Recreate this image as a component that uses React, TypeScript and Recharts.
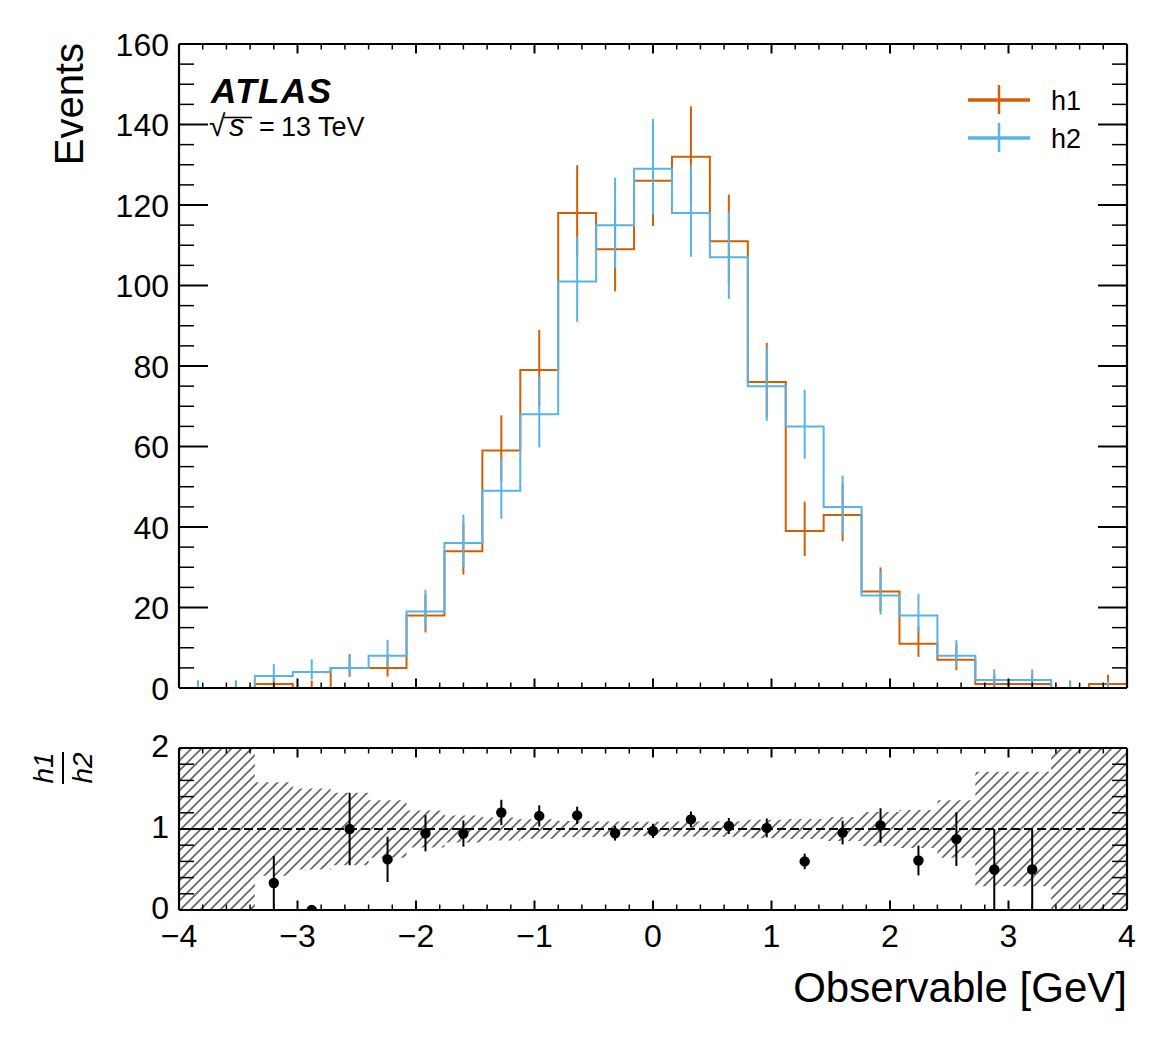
import React from "react";
import {
  ComposedChart,
  Line,
  Scatter,
  Area,
  XAxis,
  YAxis,
  ErrorBar,
  ReferenceLine,
} from "recharts";

// ---------------- data ----------------
const binEdges = [
  -4, -3.68, -3.36, -3.04, -2.72, -2.4, -2.08, -1.76, -1.44, -1.12, -0.8, -0.48, -0.16,
  0.16, 0.48, 0.8, 1.12, 1.44, 1.76, 2.08, 2.4, 2.72, 3.04, 3.36, 3.68, 4,
];
const binCenters = [
  -3.84, -3.52, -3.2, -2.88, -2.56, -2.24, -1.92, -1.6, -1.28, -0.96, -0.64, -0.32, 0,
  0.32, 0.64, 0.96, 1.28, 1.6, 1.92, 2.24, 2.56, 2.88, 3.2, 3.52, 3.84,
];
const h1Counts = [0, 0, 1, 0, 5, 5, 18, 34, 59, 79, 118, 109, 126, 132, 111, 76, 39, 43, 24, 11, 7, 1, 1, 0, 1];
const h2Counts = [0, 0, 3, 4, 5, 8, 19, 36, 49, 68, 101, 115, 129, 118, 107, 75, 65, 45, 23, 18, 8, 2, 2, 0, 0];

const xMajorTicks = [-4, -3, -2, -1, 0, 1, 2, 3, 4];
const xTickLabels = ["\u22124", "\u22123", "\u22122", "\u22121", "0", "1", "2", "3", "4"];
const yMainMajorTicks = [0, 20, 40, 60, 80, 100, 120, 140, 160];
const yMainTickLabels = ["0", "20", "40", "60", "80", "100", "120", "140", "160"];
const yRatioMajorTicks = [0, 1, 2];
const yRatioTickLabels = ["0", "1", "2"];

// minor tick grids (layout only)
const xAllTicks = Array.from({ length: 41 }, (_, i) => Math.round((-4 + 0.2 * i) * 10) / 10);
const yMainAllTicks = Array.from({ length: 33 }, (_, i) => i * 5);
const yRatioAllTicks = Array.from({ length: 11 }, (_, i) => Math.round(i * 2) / 10);

// ---------------- style ----------------
const ORANGE = "#D55E00";
const BLUE = "#56B4E9";
const FONT = "'Liberation Sans', Arial, Helvetica, sans-serif";

// ---------------- Poisson (Garwood) intervals for the histogram error bars ----------------
const TAIL = 0.158655;
function poissonCdf(k: number, mu: number): number {
  if (k < 0) return 0;
  let term = Math.exp(-mu);
  let sum = term;
  for (let i = 1; i <= k; i++) {
    term *= mu / i;
    sum += term;
  }
  return sum;
}
function bisect(f: (m: number) => number, target: number, lo: number, hi: number): number {
  for (let it = 0; it < 80; it++) {
    const mid = 0.5 * (lo + hi);
    if (f(mid) > target) lo = mid;
    else hi = mid;
  }
  return 0.5 * (lo + hi);
}
function poissonUp(n: number): number {
  return bisect((m) => poissonCdf(n, m), TAIL, n, n + 10 + 6 * Math.sqrt(n));
}
function poissonDown(n: number): number {
  if (n === 0) return 0;
  return bisect((m) => poissonCdf(n - 1, m), 1 - TAIL, 0, n);
}

const stepRows = (counts: number[]) =>
  binEdges.map((x, i) => ({ x, y: counts[Math.min(i, counts.length - 1)] }));
const errRows = (counts: number[]) =>
  binCenters.map((x, i) => {
    const n = counts[i];
    return { x, y: n, err: [n - poissonDown(n), poissonUp(n) - n] };
  });

const h1Step = stepRows(h1Counts);
const h2Step = stepRows(h2Counts);
const h1Err = errRows(h1Counts);
const h2Err = errRows(h2Counts);

const ratioRows = binCenters
  .map((x, i) => ({ x, h1: h1Counts[i], h2: h2Counts[i] }))
  .filter((r) => r.h2 > 0)
  .map((r) => ({ x: r.x, y: r.h1 / r.h2, err: Math.sqrt(r.h1) / r.h2 }));

const bandRows = binEdges.map((x, i) => {
  const n = h2Counts[Math.min(i, h2Counts.length - 1)];
  const band = n > 0 ? [1 - Math.sqrt(n) / n, 1 + Math.sqrt(n) / n] : [0, 2];
  return { x, band };
});

// ---------------- tick renderers ----------------
const near = (a: number, b: number) => Math.abs(a - b) < 1e-6;

function makeXTick(side: "bottom" | "top", withLabels: boolean) {
  return (props: any) => {
    const { x, y, payload } = props;
    const v = payload.value;
    const idx = xMajorTicks.findIndex((m) => near(m, v));
    const major = idx >= 0;
    const len = major ? 9.5 : 5.5;
    const dir = side === "bottom" ? -1 : 1;
    return (
      <g>
        <line x1={x} x2={x} y1={y} y2={y + dir * len} stroke="#000" strokeWidth={major ? 2 : 1.5} />
        {withLabels && major && (
          <text x={x} y={y + 37} textAnchor="middle" fontSize={32} fontFamily={FONT} fill="#000">
            {xTickLabels[idx]}
          </text>
        )}
      </g>
    );
  };
}

function makeYTick(side: "left" | "right", majors: number[], labels: string[] | null, dy: number) {
  return (props: any) => {
    const { x, y, payload } = props;
    const v = payload.value;
    const idx = majors.findIndex((m) => near(m, v));
    const major = idx >= 0;
    const len = major ? 29 : 15;
    const dir = side === "left" ? 1 : -1;
    return (
      <g>
        <line x1={x} x2={x + dir * len} y1={y} y2={y} stroke="#000" strokeWidth={major ? 2 : 1.5} />
        {labels && major && (
          <text x={x - 10} y={y + dy} textAnchor="end" fontSize={32} fontFamily={FONT} fill="#000">
            {labels[idx]}
          </text>
        )}
      </g>
    );
  };
}

const noShape = () => <g />;
const dotShape = (p: any) => <circle cx={p.cx} cy={p.cy} r={5.2} fill="#000" />;

const axisLine = { stroke: "#000", strokeWidth: 2.2 };

// ---------------- component ----------------
export default function App() {
  return (
    <div
      style={{
        position: "absolute",
        left: 0,
        top: 0,
        width: 1167,
        height: 1045,
        background: "#fff",
        fontFamily: FONT,
        overflow: "hidden",
      }}
    >
      <svg width={0} height={0} style={{ position: "absolute" }}>
        <defs>
          <pattern id="hatch" patternUnits="userSpaceOnUse" width={10} height={10}>
            <path
              d="M0,10 L10,0 M-2.5,2.5 L2.5,-2.5 M7.5,12.5 L12.5,7.5"
              stroke="#666666"
              strokeWidth={1.7}
            />
          </pattern>
        </defs>
      </svg>

      {/* main panel: plot area x 179..1127, y 44..688 */}
      <div style={{ position: "absolute", left: 0, top: 0 }}>
        <ComposedChart width={1167} height={720} margin={{ top: 34, right: 30, bottom: 22, left: 119 }}>
          <Line
            data={h1Step}
            type="stepAfter"
            dataKey="y"
            stroke={ORANGE}
            strokeWidth={2}
            dot={false}
            activeDot={false}
            legendType="none"
            isAnimationActive={false}
          />
          <Scatter data={h1Err} dataKey="y" shape={noShape} legendType="none" isAnimationActive={false}>
            <ErrorBar dataKey="err" direction="y" width={0} stroke={ORANGE} strokeWidth={2} isAnimationActive={false} />
          </Scatter>
          <Line
            data={h2Step}
            type="stepAfter"
            dataKey="y"
            stroke={BLUE}
            strokeWidth={2}
            dot={false}
            activeDot={false}
            legendType="none"
            isAnimationActive={false}
          />
          <Scatter data={h2Err} dataKey="y" shape={noShape} legendType="none" isAnimationActive={false}>
            <ErrorBar dataKey="err" direction="y" width={0} stroke={BLUE} strokeWidth={2} isAnimationActive={false} />
          </Scatter>

          <XAxis
            dataKey="x"
            type="number"
            domain={[-4, 4]}
            allowDataOverflow
            ticks={xAllTicks}
            interval={0}
            tickSize={0}
            tickMargin={0}
            tickLine={false}
            tick={makeXTick("bottom", false)}
            axisLine={axisLine}
            height={10}
          />
          <XAxis
            xAxisId="top"
            orientation="top"
            dataKey="x"
            type="number"
            domain={[-4, 4]}
            allowDataOverflow
            ticks={xAllTicks}
            interval={0}
            tickSize={0}
            tickMargin={0}
            tickLine={false}
            tick={makeXTick("top", false)}
            axisLine={axisLine}
            height={10}
          />
          <YAxis
            type="number"
            domain={[0, 160]}
            allowDataOverflow
            ticks={yMainAllTicks}
            interval={0}
            tickSize={0}
            tickMargin={0}
            tickLine={false}
            tick={makeYTick("left", yMainMajorTicks, yMainTickLabels, 11.5)}
            axisLine={axisLine}
            width={60}
          />
          <YAxis
            yAxisId="right"
            orientation="right"
            type="number"
            domain={[0, 160]}
            allowDataOverflow
            ticks={yMainAllTicks}
            interval={0}
            tickSize={0}
            tickMargin={0}
            tickLine={false}
            tick={makeYTick("right", yMainMajorTicks, null, 0)}
            axisLine={axisLine}
            width={10}
          />
        </ComposedChart>
      </div>

      {/* ratio panel: plot area x 179..1127, y 748..910 */}
      <div style={{ position: "absolute", left: 0, top: 700 }}>
        <ComposedChart width={1167} height={345} margin={{ top: 38, right: 30, bottom: 95, left: 119 }}>
          <Area
            data={bandRows}
            type="stepAfter"
            dataKey="band"
            stroke="none"
            fill="url(#hatch)"
            fillOpacity={1}
            dot={false}
            activeDot={false}
            legendType="none"
            isAnimationActive={false}
          />
          <ReferenceLine y={1} stroke="#000" strokeWidth={2} strokeDasharray="9 4" />
          <Scatter data={ratioRows} dataKey="y" shape={dotShape} legendType="none" isAnimationActive={false}>
            <ErrorBar dataKey="err" direction="y" width={0} stroke="#000" strokeWidth={2} isAnimationActive={false} />
          </Scatter>

          <XAxis
            dataKey="x"
            type="number"
            domain={[-4, 4]}
            allowDataOverflow
            ticks={xAllTicks}
            interval={0}
            tickSize={0}
            tickMargin={0}
            tickLine={false}
            tick={makeXTick("bottom", true)}
            axisLine={axisLine}
            height={40}
          />
          <XAxis
            xAxisId="top"
            orientation="top"
            dataKey="x"
            type="number"
            domain={[-4, 4]}
            allowDataOverflow
            ticks={xAllTicks}
            interval={0}
            tickSize={0}
            tickMargin={0}
            tickLine={false}
            tick={makeXTick("top", false)}
            axisLine={axisLine}
            height={10}
          />
          <YAxis
            type="number"
            domain={[0, 2]}
            allowDataOverflow
            ticks={yRatioAllTicks}
            interval={0}
            tickSize={0}
            tickMargin={0}
            tickLine={false}
            tick={makeYTick("left", yRatioMajorTicks, yRatioTickLabels, 9)}
            axisLine={axisLine}
            width={60}
          />
          <YAxis
            yAxisId="right"
            orientation="right"
            type="number"
            domain={[0, 2]}
            allowDataOverflow
            ticks={yRatioAllTicks}
            interval={0}
            tickSize={0}
            tickMargin={0}
            tickLine={false}
            tick={makeYTick("right", yRatioMajorTicks, null, 0)}
            axisLine={axisLine}
            width={10}
          />
        </ComposedChart>
      </div>

      {/* annotations */}
      <svg
        width={1167}
        height={1045}
        style={{ position: "absolute", left: 0, top: 0, pointerEvents: "none" }}
        fontFamily={FONT}
      >
        <text x={83} y={43} transform="rotate(-90 83 43)" textAnchor="end" fontSize={40} fill="#000">
          Events
        </text>

        <text x={211} y={103} fontSize={35} fontWeight="bold" fontStyle="italic" letterSpacing={1.5} fill="#000">
          ATLAS
        </text>
        <text x={209} y={136} fontSize={30} fill="#000">
          √
        </text>
        <line x1={224} x2={252} y1={117.5} y2={117.5} stroke="#000" strokeWidth={1.6} />
        <text x={229} y={136} fontSize={31} fontStyle="italic" fill="#000">
          s
        </text>
        <text x={259} y={136} fontSize={27} fill="#000">
          =
        </text>
        <text x={281} y={136} fontSize={27} fill="#000">
          13 TeV
        </text>

        {/* legend */}
        <line x1={968} x2={1030} y1={100} y2={100} stroke={ORANGE} strokeWidth={3.5} />
        <line x1={999} x2={999} y1={85} y2={114} stroke={ORANGE} strokeWidth={2.5} />
        <text x={1051} y={110} fontSize={27} fill="#000">
          h1
        </text>
        <line x1={968} x2={1030} y1={138} y2={138} stroke={BLUE} strokeWidth={3.5} />
        <line x1={999} x2={999} y1={123} y2={152} stroke={BLUE} strokeWidth={2.5} />
        <text x={1051} y={148} fontSize={27} fill="#000">
          h2
        </text>

        {/* ratio y label (fraction) */}
        <g transform="translate(63 768) rotate(-90)">
          <line x1={-16} x2={16} y1={0} y2={0} stroke="#000" strokeWidth={2} />
          <text x={0} y={-10} textAnchor="middle" fontSize={28} fontStyle="italic" fill="#000">
            h1
          </text>
          <text x={0} y={29} textAnchor="middle" fontSize={28} fontStyle="italic" fill="#000">
            h2
          </text>
        </g>

        <text x={1127} y={1002} textAnchor="end" fontSize={42} fill="#000">
          Observable [GeV]
        </text>
      </svg>
    </div>
  );
}
